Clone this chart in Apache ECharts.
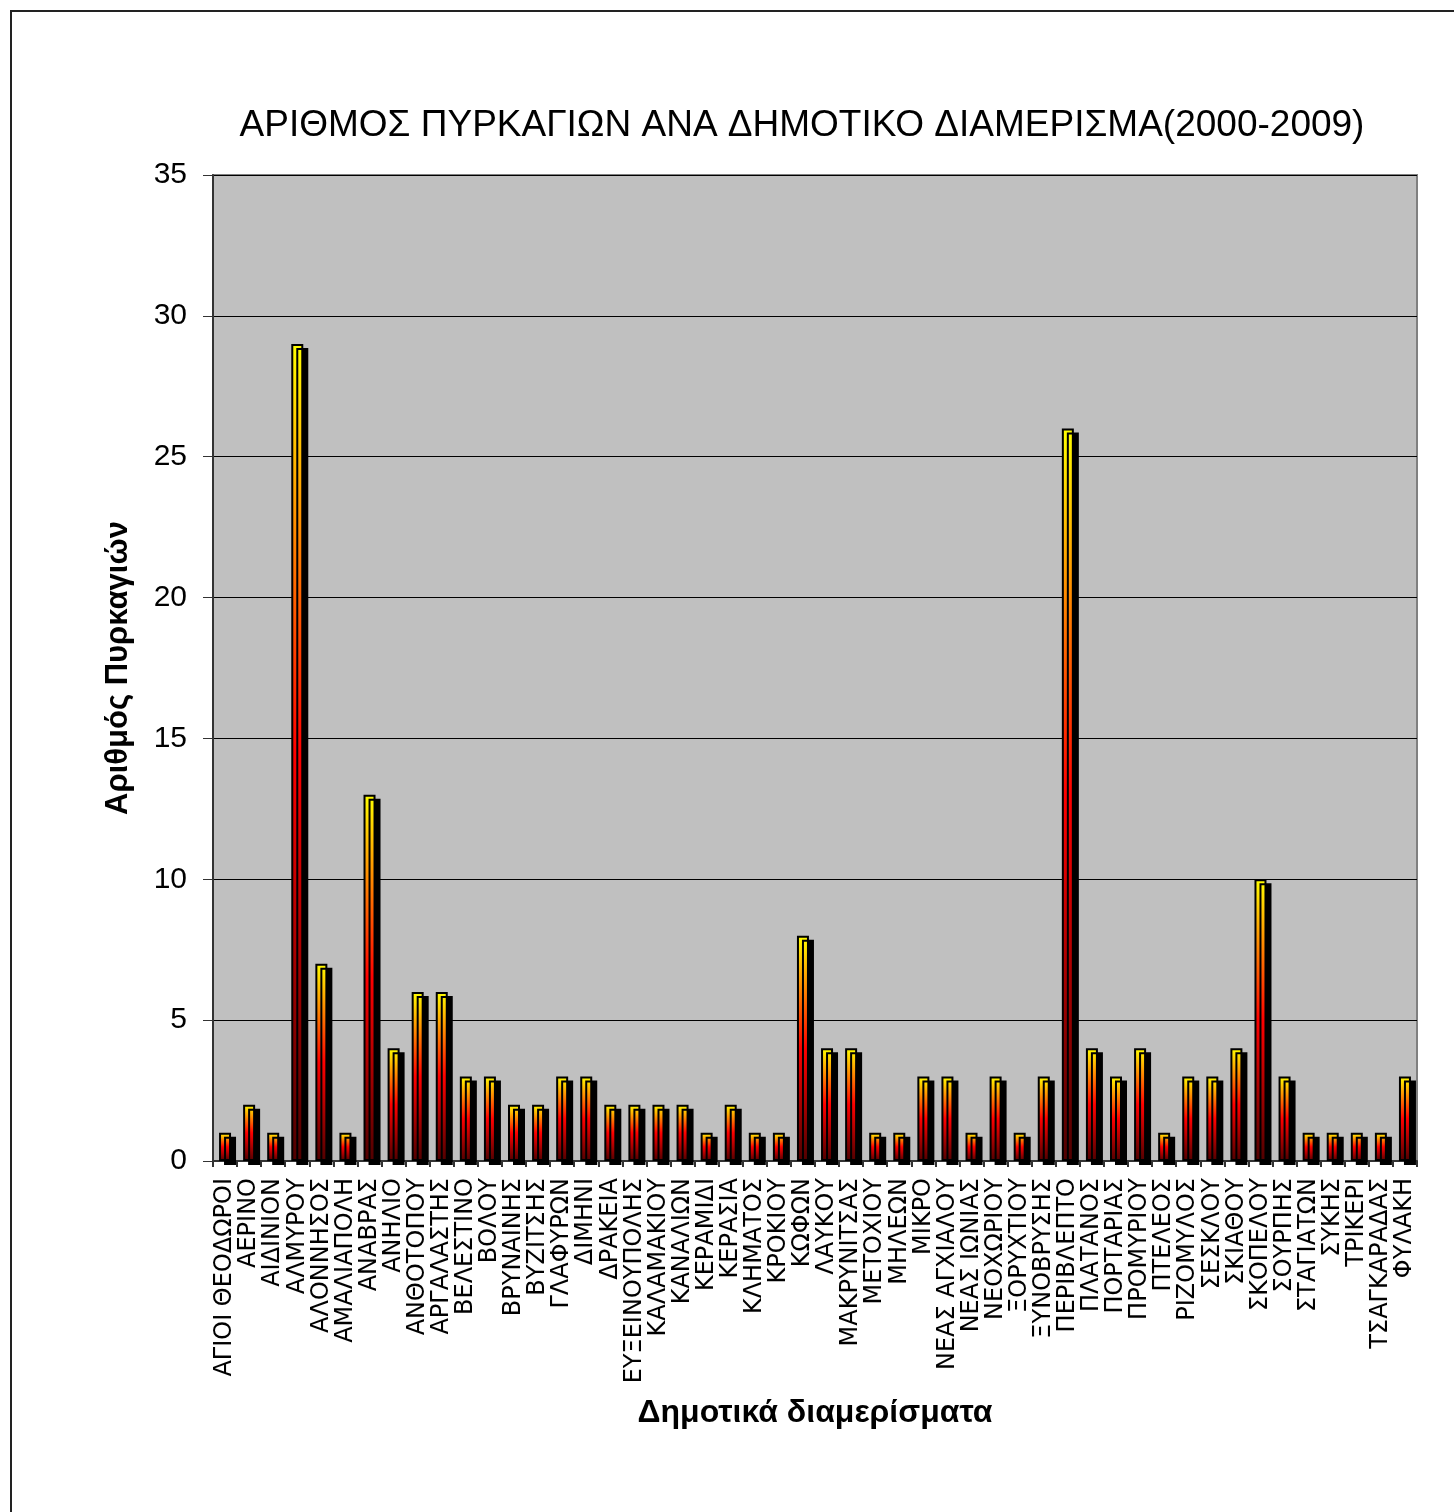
<!DOCTYPE html>
<html>
<head>
<meta charset="utf-8">
<script src="https://cdn.jsdelivr.net/npm/echarts@6/dist/echarts.min.js"></script>
<style>
  html, body { margin: 0; padding: 0; background: #fff; }
  #frame {
    position: absolute; left: 10px; top: 10px;
    width: 1444px; height: 1502px;
    border-left: 2px solid #222; border-top: 2px solid #222;
    box-sizing: border-box;
  }
  #chart { position: absolute; left: 0; top: 0; width: 1454px; height: 1512px; }
</style>
</head>
<body>
<div id="frame"></div>
<div id="chart"></div>
<script>
// δημοτικά διαμερίσματα
const districts = [
  'ΑΓΙΟΙ ΘΕΟΔΩΡΟΙ', 'ΑΕΡΙΝΟ', 'ΑΙΔΙΝΙΟΝ', 'ΑΛΜΥΡΟΥ', 'ΑΛΟΝΝΗΣΟΣ',
  'ΑΜΑΛΙΑΠΟΛΗ', 'ΑΝΑΒΡΑΣ', 'ΑΝΗΛΙΟ', 'ΑΝΘΟΤΟΠΟΥ', 'ΑΡΓΑΛΑΣΤΗΣ',
  'ΒΕΛΕΣΤΙΝΟ', 'ΒΟΛΟΥ', 'ΒΡΥΝΑΙΝΗΣ', 'ΒΥΖΙΤΣΗΣ', 'ΓΛΑΦΥΡΩΝ',
  'ΔΙΜΗΝΙ', 'ΔΡΑΚΕΙΑ', 'ΕΥΞΕΙΝΟΥΠΟΛΗΣ', 'ΚΑΛΑΜΑΚΙΟΥ', 'ΚΑΝΑΛΙΩΝ',
  'ΚΕΡΑΜΙΔΙ', 'ΚΕΡΑΣΙΑ', 'ΚΛΗΜΑΤΟΣ', 'ΚΡΟΚΙΟΥ', 'ΚΩΦΩΝ',
  'ΛΑΥΚΟΥ', 'ΜΑΚΡΥΝΙΤΣΑΣ', 'ΜΕΤΟΧΙΟΥ', 'ΜΗΛΕΩΝ', 'ΜΙΚΡΟ',
  'ΝΕΑΣ ΑΓΧΙΑΛΟΥ', 'ΝΕΑΣ ΙΩΝΙΑΣ', 'ΝΕΟΧΩΡΙΟΥ', 'ΞΟΡΥΧΤΙΟΥ', 'ΞΥΝΟΒΡΥΣΗΣ',
  'ΠΕΡΙΒΛΕΠΤΟ', 'ΠΛΑΤΑΝΟΣ', 'ΠΟΡΤΑΡΙΑΣ', 'ΠΡΟΜΥΡΙΟΥ', 'ΠΤΕΛΕΟΣ',
  'ΡΙΖΟΜΥΛΟΣ', 'ΣΕΣΚΛΟΥ', 'ΣΚΙΑΘΟΥ', 'ΣΚΟΠΕΛΟΥ', 'ΣΟΥΡΠΗΣ',
  'ΣΤΑΓΙΑΤΩΝ', 'ΣΥΚΗΣ', 'ΤΡΙΚΕΡΙ', 'ΤΣΑΓΚΑΡΑΔΑΣ', 'ΦΥΛΑΚΗ'
];

// αριθμός πυρκαγιών 2000-2009
const fires = [
  1, 2, 1, 29, 7,
  1, 13, 4, 6, 6,
  3, 3, 2, 2, 3,
  3, 2, 2, 2, 2,
  1, 2, 1, 1, 8,
  4, 4, 1, 1, 3,
  3, 1, 3, 1, 3,
  26, 4, 3, 4, 1,
  3, 3, 4, 10, 3,
  1, 1, 1, 1, 3
];

const yTicks = [0, 5, 10, 15, 20, 25, 30, 35];

let myChart = echarts.init(document.getElementById('chart'));

// κίτρινο πάνω, κόκκινο στη μέση, σκούρο κόκκινο κάτω
const fireGradient = new echarts.graphic.LinearGradient(0, 0, 0, 1, [
  { offset: 0, color: '#ffff00' },
  { offset: 0.5, color: '#ff0000' },
  { offset: 1, color: '#500000' }
]);

let option = {
  animation: false,
  textStyle: { fontFamily: 'Liberation Sans, Arial, sans-serif', color: '#000' },
  title: {
    text: 'ΑΡΙΘΜΟΣ ΠΥΡΚΑΓΙΩΝ ΑΝΑ ΔΗΜΟΤΙΚΟ ΔΙΑΜΕΡΙΣΜΑ(2000-2009)',
    left: 797,
    top: 102,
    textAlign: 'center',
    textStyle: {
      fontFamily: 'Liberation Sans, Arial, sans-serif',
      fontSize: 37,
      fontWeight: 'normal',
      color: '#000'
    }
  },
  grid: {
    left: 213,
    right: 37,
    top: 175,
    bottom: 351,
    show: true,
    backgroundColor: '#c0c0c0',
    borderColor: '#808080',
    borderWidth: 2
  },
  xAxis: {
    type: 'category',
    data: districts,
    name: 'Δημοτικά διαμερίσματα',
    nameLocation: 'middle',
    nameGap: 236,
    nameTextStyle: {
      fontFamily: 'Liberation Sans, Arial, sans-serif',
      fontSize: 32,
      fontWeight: 'bold',
      color: '#000'
    },
    axisLine: { lineStyle: { color: '#333', width: 2 } },
    axisTick: { show: true, length: 6, lineStyle: { color: '#333', width: 2 } },
    axisLabel: {
      interval: 0,
      rotate: 90,
      margin: 17,
      fontFamily: '"DejaVu Sans", Verdana, sans-serif',
      fontSize: 24,
      color: '#000'
    }
  },
  yAxis: {
    type: 'value',
    min: 0,
    max: 35,
    interval: 5,
    name: 'Αριθμός Πυρκαγιών',
    nameLocation: 'middle',
    nameGap: 79,
    nameTextStyle: {
      fontFamily: 'Liberation Sans, Arial, sans-serif',
      fontSize: 31,
      fontWeight: 'bold',
      color: '#000'
    },
    axisLine: { show: true, lineStyle: { color: '#333', width: 2 } },
    axisTick: { show: true, length: 10, lineStyle: { color: '#333', width: 1 } },
    axisLabel: {
      margin: 26,
      fontFamily: 'Liberation Sans, Arial, sans-serif',
      fontSize: 30,
      color: '#000',
      formatter: function (v) { return yTicks.indexOf(v) >= 0 ? String(v) : ''; }
    },
    splitLine: { show: true, lineStyle: { color: '#000', width: 1 } }
  },
  series: [
    {
      name: 'Πυρκαγιές',
      type: 'bar',
      data: fires,
      barWidth: 12,
      itemStyle: {
        color: fireGradient,
        borderColor: '#000',
        borderWidth: 2,
        shadowColor: '#000',
        shadowBlur: 0,
        shadowOffsetX: 5,
        shadowOffsetY: 4
      }
    }
  ]
};

myChart.setOption(option);
</script>
</body>
</html>
